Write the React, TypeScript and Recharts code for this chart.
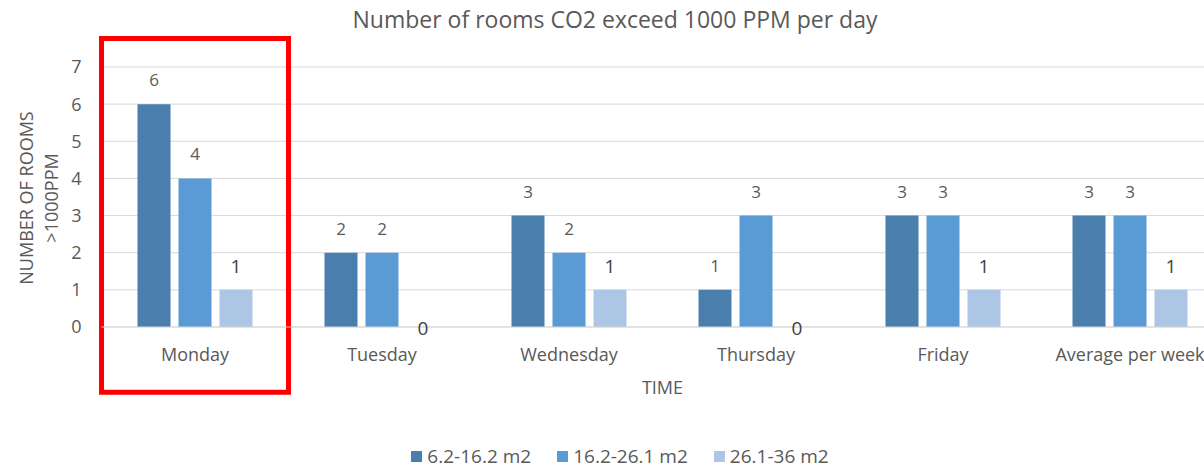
import React from "react";
import {
  BarChart,
  Bar,
  XAxis,
  YAxis,
  CartesianGrid,
  Legend,
  LabelList,
  ReferenceArea,
} from "recharts";

const days = ["Monday", "Tuesday", "Wednesday", "Thursday", "Friday", "Average per week"];
const small = [6, 2, 3, 1, 3, 3];
const medium = [4, 2, 2, 3, 3, 3];
const large = [1, 0, 1, 0, 1, 1];
const yTicks = [0, 1, 2, 3, 4, 5, 6, 7];

const seriesNames = ["6.2-16.2 m2", "16.2-26.1 m2", "26.1-36 m2"];
const colors = ["#4a7ead", "#5b9bd5", "#adc6e5"];

const rows = days.map((day, i) => ({
  day,
  small: small[i],
  medium: medium[i],
  large: large[i],
}));

const FONT = '"Open Sans", sans-serif';
const GREY = "#595959";

// labels of the third series are bigger and darker; zero sits on the baseline
const bigLabel = (props: any) => {
  const { x, y, width, value } = props;
  const ty = Number(value) > 0 ? y - 17 : y + 8;
  return (
    <text
      x={x + width / 2}
      y={ty}
      textAnchor="middle"
      fill="#404040"
      fontSize={19}
      fontFamily={FONT}
    >
      {value}
    </text>
  );
};

const yTitle = () => {
  const cy = 198;
  return (
    <text
      transform={`rotate(-90, 40, ${cy})`}
      x={40}
      y={cy}
      textAnchor="middle"
      fill={GREY}
      fontSize={18}
      fontFamily={FONT}
    >
      <tspan x={40} dy={-7}>NUMBER OF ROOMS</tspan>
      <tspan x={40} dy={25}>&gt;1000PPM</tspan>
    </text>
  );
};

const legendContent = () => (
  <div
    style={{
      display: "flex",
      justifyContent: "center",
      gap: 26,
      fontFamily: FONT,
      fontSize: 19,
      color: GREY,
    }}
  >
    {seriesNames.map((name, i) => (
      <div key={name} style={{ display: "flex", alignItems: "center" }}>
        <span
          style={{
            display: "inline-block",
            width: 11,
            height: 11,
            background: colors[i],
            marginRight: 5,
          }}
        />
        {name}
      </div>
    ))}
  </div>
);

export default function App() {
  return (
    <div
      style={{
        position: "absolute",
        left: 0,
        top: 0,
        width: 1204,
        height: 468,
        overflow: "hidden",
        background: "#fff",
      }}
    >
      <div
        style={{
          position: "absolute",
          top: 3,
          left: 0,
          width: 1230,
          textAlign: "center",
          fontFamily: FONT,
          fontSize: 23,
          color: GREY,
        }}
      >
        Number of rooms CO2 exceed 1000 PPM per day
      </div>
      <BarChart
        width={1260}
        height={468}
        data={rows}
        margin={{ top: 67, right: 36.5, left: 0, bottom: 71 }}
        barGap={8}
        barCategoryGap={36}
      >
        <CartesianGrid vertical={false} stroke="#d9d9d9" />
        <XAxis
          dataKey="day"
          height={70}
          tickLine={false}
          axisLine={{ stroke: "#d9d9d9" }}
          tickMargin={15}
          tick={{ fill: GREY, fontSize: 18, fontFamily: FONT }}
          label={{
            value: "TIME",
            position: "insideBottom",
            offset: 3,
            fill: GREY,
            fontSize: 18,
            fontFamily: FONT,
          }}
        />
        <YAxis
          width={101.5}
          domain={[0, 7]}
          ticks={yTicks}
          interval={0}
          tickLine={false}
          axisLine={false}
          tickMargin={14}
          tick={{ fill: GREY, fontSize: 18, fontFamily: FONT }}
          label={{ content: yTitle }}
        />
        <Legend
          verticalAlign="middle"
          align="center"
          wrapperStyle={{ top: 443, left: 0, width: 1240 }}
          content={legendContent}
        />
        <Bar dataKey="small" name={seriesNames[0]} fill={colors[0]} isAnimationActive={false}>
          <LabelList
            dataKey="small"
            position="top"
            offset={18}
            fill={GREY}
            fontSize={17}
            fontFamily={FONT}
          />
        </Bar>
        <Bar dataKey="medium" name={seriesNames[1]} fill={colors[1]} isAnimationActive={false}>
          <LabelList
            dataKey="medium"
            position="top"
            offset={18}
            fill={GREY}
            fontSize={17}
            fontFamily={FONT}
          />
        </Bar>
        <Bar
          dataKey="large"
          name={seriesNames[2]}
          fill={colors[2]}
          minPointSize={0.01}
          isAnimationActive={false}
        >
          <LabelList dataKey="large" content={bigLabel} />
        </Bar>
        <ReferenceArea
          x1="Monday"
          x2="Monday"
          y1={-1.76}
          y2={7.77}
          ifOverflow="visible"
          fill="none"
          stroke="#ff0000"
          strokeWidth={5}
          fillOpacity={0}
        />
      </BarChart>
    </div>
  );
}
